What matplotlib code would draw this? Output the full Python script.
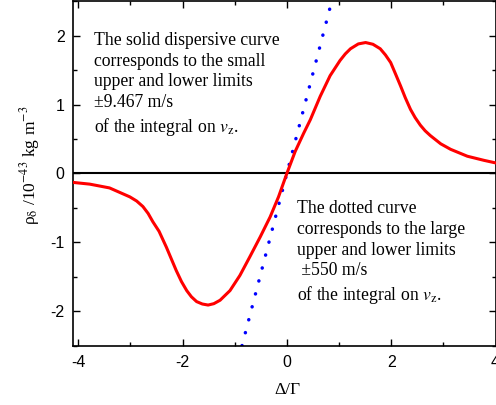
import matplotlib
matplotlib.use("Agg")
import matplotlib.pyplot as plt

plt.rcParams['mathtext.fontset'] = 'stix'
plt.rcParams['axes.unicode_minus'] = False

# solid dispersive curve
x_solid = [-4.10, -3.78, -3.40, -3.01, -2.88, -2.76, -2.66, -2.57, -2.45, -2.31,
           -2.12, -2.02, -1.92, -1.83, -1.73, -1.62, -1.51, -1.40, -1.28, -1.09,
           -0.90, -0.71, -0.51, -0.32, -0.16, 0.00, 0.16, 0.32, 0.45, 0.64,
           0.83, 1.02, 1.12, 1.22, 1.37, 1.51, 1.65, 1.79, 1.89, 1.99,
           2.08, 2.18, 2.27, 2.37, 2.46, 2.56, 2.65, 2.75, 2.95, 3.14,
           3.46, 3.78, 4.02]
y_solid = [-0.13, -0.155, -0.21, -0.34, -0.40, -0.48, -0.58, -0.70, -0.84, -1.07,
           -1.41, -1.57, -1.70, -1.79, -1.86, -1.895, -1.91, -1.89, -1.84, -1.70,
           -1.48, -1.21, -0.92, -0.63, -0.34, 0.00, 0.32, 0.58, 0.78, 1.12,
           1.42, 1.64, 1.735, 1.81, 1.88, 1.90, 1.875, 1.81, 1.72, 1.61,
           1.45, 1.27, 1.10, 0.93, 0.81, 0.70, 0.62, 0.55, 0.43, 0.35,
           0.25, 0.19, 0.15]

# dotted curve
x_dot = [-0.86, 0.86]
y_dot = [-2.50, 2.50]

xticks = [-4, -2, 0, 2, 4]
yticks = [-2, -1, 0, 1, 2]

text1 = ("The solid dispersive curve\ncorresponds to the small\nupper and lower limits\n"
         "\u00b19.467 m/s\nof the integral on $v_\\mathrm{z}$.")
text2 = ("The dotted curve\ncorresponds to the large\nupper and lower limits\n"
         " \u00b1550 m/s\nof the integral on $v_\\mathrm{z}$.")

fig = plt.figure(figsize=(4.96, 4.05), dpi=100)
ax = fig.add_axes([73 / 496, 59.3 / 405, 422.5 / 496, 344.5 / 405])

ax.axhline(0, color='black', lw=1.5, zorder=1)
ax.plot(x_solid, y_solid, color='red', lw=2.2, zorder=3,
        solid_joinstyle='round')
ax.plot(x_dot, y_dot, color='blue', lw=2.5, linestyle=(0, (0.05, 3.8)),
        dash_capstyle='round', zorder=2)

ax.set_xlim(-4.1, 4)
ax.set_ylim(-2.5, 2.5)
ax.set_xticks(xticks)
ax.set_yticks(yticks)
ax.set_xticks([-3, -1, 1, 3], minor=True)
ax.set_yticks([-2.5, -1.5, -0.5, 0.5, 1.5, 2.5], minor=True)
ax.tick_params(which='both', direction='in', top=True, right=True, width=1)
ax.tick_params(which='major', length=5)
ax.tick_params(which='minor', length=3)
ax.tick_params(axis='x', pad=7)
ax.tick_params(axis='y', pad=6)
for lab in ax.get_xticklabels() + ax.get_yticklabels():
    lab.set_family('Liberation Sans')
    lab.set_fontsize(11.5)
for sp in ax.spines.values():
    sp.set_linewidth(1.2)

ax.text(-3.69, 2.05, text1, family='Liberation Serif', fontsize=12.7,
        va='top', ha='left', linespacing=1.28)
ax.text(0.19, -0.39, text2, family='Liberation Serif', fontsize=12.7,
        va='top', ha='left', linespacing=1.28)

fig.text(287 / 496, 1 - 390 / 405, '\u0394/\u0393', family='Liberation Serif',
         fontsize=12.5, ha='center', va='center')
fig.text(30 / 496, 1 - 165 / 405,
         '\u03c1$_{\\mathrm{\u03b4}}$ /10$^{-43}$ kg m$^{-3}$',
         family='Liberation Serif', fontsize=12.5, rotation=90,
         ha='center', va='center')

fig.savefig('out.png', dpi=100)
